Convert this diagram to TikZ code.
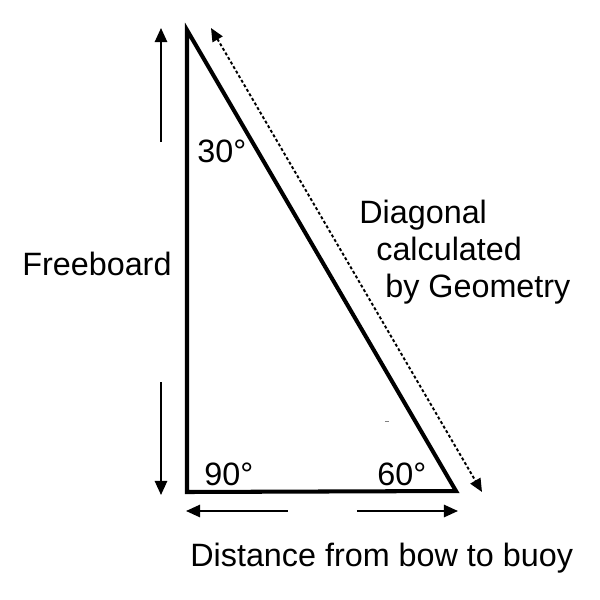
\documentclass[tikz,border=0pt]{standalone}
\usepackage{fontspec}
\setmainfont{Liberation Sans}
\usetikzlibrary{arrows.meta}
\begin{document}
\begin{tikzpicture}[x=0.02cm,y=-0.02cm,
  side/.style={line width=2.3pt,line join=miter},
  arr/.style={line width=1.1pt,-{Triangle[length=8pt,width=7pt]}},
  darr/.style={line width=1.1pt,dash pattern=on 1.7pt off 1.3pt,{Triangle[length=7.5pt,width=6.5pt]}-{Triangle[length=7.5pt,width=6.5pt]}},
  lbl/.style={inner sep=0pt,anchor=base west,font=\fontsize{18.4}{22}\selectfont}]
\useasboundingbox (0,0) rectangle (600,600);
\coordinate (A) at (187,30);
\coordinate (B) at (187,492);
\coordinate (C) at (456,491);
\draw[side] (A) -- (B) -- (C) -- cycle;
% vertical arrows
\coordinate (u0) at (161,142); \coordinate (u1) at (161,28);
\coordinate (d0) at (161,382); \coordinate (d1) at (161,495);
\draw[arr] (u0) -- (u1);
\draw[arr] (d0) -- (d1);
% horizontal arrows
\coordinate (l0) at (288,511); \coordinate (l1) at (186,511);
\coordinate (r0) at (357,511); \coordinate (r1) at (458,511);
\draw[arr] (l0) -- (l1);
\draw[arr] (r0) -- (r1);
% dotted diagonal
\coordinate (p0) at (211,28); \coordinate (p1) at (482,492);
\draw[darr] (p0) -- (p1);
% small stray mark
\coordinate (m0) at (385,421); \coordinate (m1) at (389,421);
\draw[line width=0.5pt,gray] (m0) -- (m1);
% labels
\node[lbl] (t30) at (197,162) {30°};
\node[lbl] (t90) at (204,485) {90°};
\node[lbl] (t60) at (377,485) {60°};
\node[lbl] (fb) at (22,275) {Freeboard};
\node[lbl] (dg1) at (359,223) {Diagonal};
\node[lbl] (dg2) at (376,260) {calculated};
\node[lbl] (dg3) at (385,297) {by Geometry};
\node[lbl] (dist) at (190,566) {Distance from bow to buoy};
\end{tikzpicture}
\end{document}
